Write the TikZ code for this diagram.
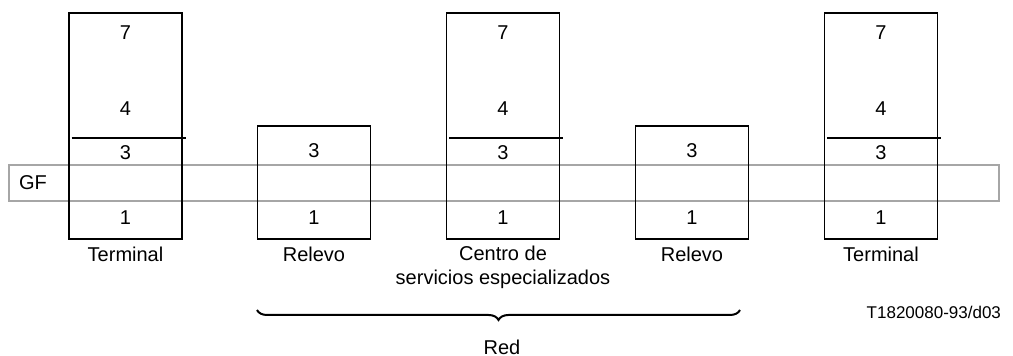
\documentclass[tikz,border=0pt]{standalone}
\usepackage{fontspec}
\setmainfont{Liberation Sans}
\usetikzlibrary{decorations.pathreplacing}

\begin{document}
\begin{tikzpicture}[x=0.5pt, y=-0.5pt,
    font=\fontsize{10}{12}\selectfont,
    stack/.style ={draw, line width=0.7pt, inner sep=0pt, minimum width=56.5pt, minimum height=113pt},
    relay/.style ={draw, line width=0.7pt, inner sep=0pt, minimum width=56.5pt, minimum height=56.5pt},
    cut/.style ={line width=1pt},
    band/.style ={draw=gray!70, line width=0.6pt}]
   \useasboundingbox (0,0) rectangle (1013,356);
   \draw[band] (9,165) rectangle (999,201);
   \node (gf) at (33,183) {GF};
   % end systems and network nodes
   \node[stack] (T1) at (125.5,126) {};
   \node[relay] (R1) at (314,182.5) {};
   \node[stack] (C)  at (503,126) {};
   \node[relay] (R2) at (692,182.5) {};
   \node[stack] (T2) at (881,126) {};
   \foreach \x in {125.5,503,881} {
     \draw[cut] (\x-54,138) -- (\x+60,138);
     \node at (\x,33) {7};
     \node at (\x,109) {4};
     \node at (\x,153) {3};
     \node at (\x,218) {1};
   }
   \foreach \x in {314,692} {
     \node at (\x,151) {3};
     \node at (\x,218) {1};
   }
   \node[anchor=north] (lT1) at (T1.south) {Terminal};
   \node[anchor=north] (lR1) at (R1.south) {Relevo};
   \node[anchor=north, align=center, inner sep=3pt] (lC) at (C.south) {Centro de\\servicios especializados};
   \node[anchor=north] (lR2) at (R2.south) {Relevo};
   \node[anchor=north] (lT2) at (T2.south) {Terminal};
   \draw[decorate, decoration={brace, mirror, amplitude=5pt}, line width=1pt]
       (257,310) -- (740,310);
   \node (red) at (502,347) {Red};
   \node[anchor=east, font=\fontsize{8.5}{10}\selectfont] (ref) at (1008,312) {T1820080-93/d03};
\end{tikzpicture}
\end{document}
